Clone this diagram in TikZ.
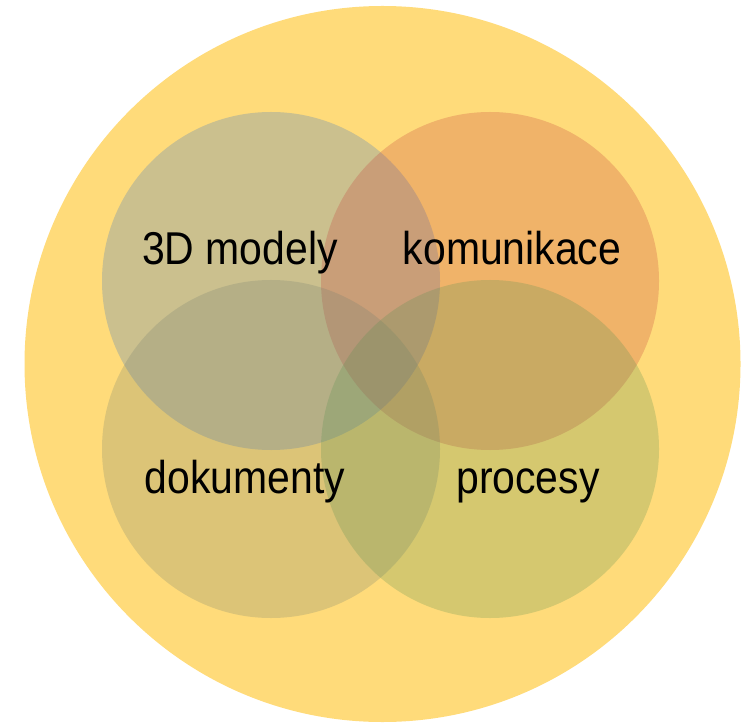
\documentclass[tikz,border=0pt]{standalone}
\usepackage{fontspec}
\setmainfont{Liberation Sans}
\usepackage{tikz}

\definecolor{sunyellow}{RGB}{255,219,122}
\definecolor{blueset}{RGB}{48,112,202}
\definecolor{redset}{RGB}{196,60,58}
\definecolor{grayset}{RGB}{116,128,114}
\definecolor{greenset}{RGB}{88,144,82}

\begin{document}
\begin{tikzpicture}[
    x=0.5pt, y=0.5pt,
    bigdisc/.style={circle, fill=sunyellow, inner sep=0pt, minimum size=358pt},
    setdisc/.style={circle, fill opacity=0.25, inner sep=0pt, minimum size=169pt},
    lbl/.style={anchor=base, inner sep=0pt, xscale=0.89, font=\fontsize{23}{28}\selectfont}
    ]
    \useasboundingbox (0,0) rectangle (747,723);

    %Nodes
    \node[bigdisc] (all) at (382.5,359) {};

    \node[setdisc, fill=blueset] (modely) at (271,442) {};
    \node[setdisc, fill=redset] (komunikace) at (490,442) {};
    \node[setdisc, fill=grayset] (dokumenty) at (271,274) {};
    \node[setdisc, fill=greenset] (procesy) at (490,274) {};

    %Labels
    \node[lbl] (modelyText) at (240,458) {3D modely};
    \node[lbl] (komunikaceText) at (512,458) {komunikace};
    \node[lbl] (dokumentyText) at (245,230) {dokumenty};
    \node[lbl] (procesyText) at (528,230) {procesy};

\end{tikzpicture}
\end{document}
